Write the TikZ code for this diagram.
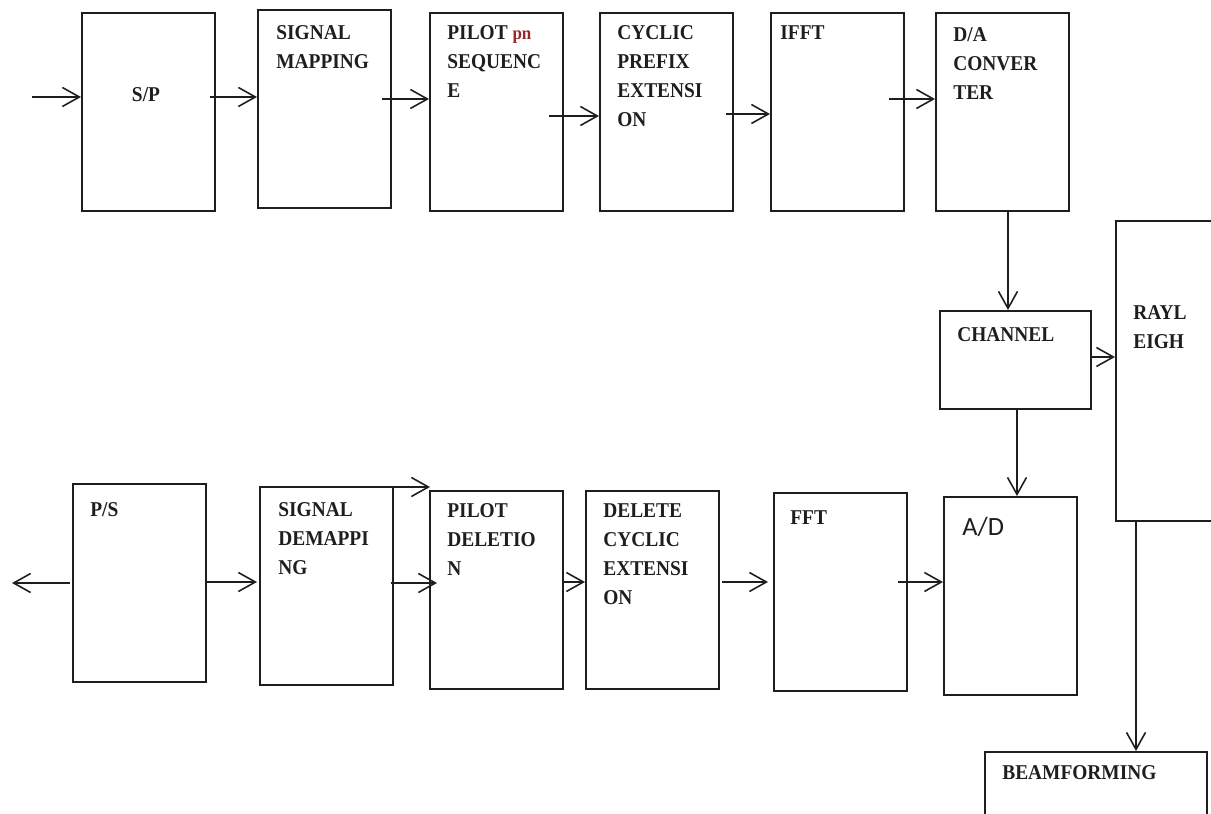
\documentclass[tikz,border=0pt]{standalone}
\usepackage{fontspec}
\setmainfont{Liberation Serif}[FakeStretch=0.92]
\newfontfamily\adfont{Carlito}
\usetikzlibrary{arrows.meta, positioning, calc}
\definecolor{mydark}{RGB}{30,30,30}
\definecolor{pnred}{RGB}{150,40,40}
\tikzset{
  blk/.style={rectangle, draw=mydark, line width=1pt,
    minimum width=2.66cm, minimum height=3.96cm,
    inner sep=0pt, anchor=north west},
  chanblk/.style={blk, minimum width=3.02cm, minimum height=1.96cm},
  rayblk/.style={blk, minimum width=2.4cm, minimum height=6cm},
  beamblk/.style={blk, minimum width=4.44cm, minimum height=2cm},
  lbl/.style={anchor=north west, inner sep=0pt, align=left,
    font=\bfseries\fontsize{12}{16.5}\selectfont, text=mydark},
  arr/.style={-{Straight Barb[length=3.4mm, width=3.8mm]}, line width=0.9pt, color=mydark}
}

\begin{document}
\begin{tikzpicture}[x=0.02cm, y=-0.02cm]
  \useasboundingbox (0,0) rectangle (1211,814);
  \clip (0,0) rectangle (1211,814);

  % Transmitter chain
  \node[blk] (sp)    at (81,12)  {};
  \node[blk] (smap)  at (257,9)  {};
  \node[blk] (pilot) at (429,12) {};
  \node[blk] (cpe)   at (599,12) {};
  \node[blk] (ifft)  at (770,12) {};
  \node[blk] (dac)   at (935,12) {};

  % Channel
  \node[chanblk] (chan) at (939,310) {};
  \node[rayblk]  (ray)  at (1115,220) {};
  \node[beamblk] (beam) at (984,751) {};

  % Receiver chain
  \node[blk] (ps)   at (72,483)  {};
  \node[blk] (sdem) at (259,486) {};
  \node[blk] (pdel) at (429,490) {};
  \node[blk] (dce)  at (585,490) {};
  \node[blk] (fft)  at (773,492) {};
  \node[blk] (adc)  at (943,496) {};

  % Labels
  \node[lbl, anchor=center] (sp-t) at ($(sp.north west)+(65,83)$) {S/P};
  \node[lbl] (smap-t)  at ($(smap.north west)+(19,16)$) {SIGNAL\\MAPPING};
  \node[lbl] (pilot-t) at ($(pilot.north west)+(18,13)$) {PILOT {\color{pnred}\fontsize{10.5}{16.5}\selectfont pn}\\SEQUENC\\E};
  \node[lbl] (cpe-t)   at ($(cpe.north west)+(18,13)$) {CYCLIC\\PREFIX\\EXTENSI\\ON};
  \node[lbl] (ifft-t)  at ($(ifft.north west)+(10,13)$) {IFFT};
  \node[lbl] (dac-t)   at ($(dac.north west)+(18,15)$) {D/A\\CONVER\\TER};
  \node[lbl] (chan-t)  at ($(chan.north west)+(18,17)$) {CHANNEL};
  \node[lbl] (ray-t)   at ($(ray.north west)+(18,85)$) {RAYL\\EIGH};
  \node[lbl] (beam-t)  at ($(beam.north west)+(18,14)$) {BEAMFORMING};
  \node[lbl] (ps-t)    at ($(ps.north west)+(18,19)$) {P/S};
  \node[lbl] (sdem-t)  at ($(sdem.north west)+(19,16)$) {SIGNAL\\DEMAPPI\\NG};
  \node[lbl] (pdel-t)  at ($(pdel.north west)+(18,13)$) {PILOT\\DELETIO\\N};
  \node[lbl] (dce-t)   at ($(dce.north west)+(18,13)$) {DELETE\\CYCLIC\\EXTENSI\\ON};
  \node[lbl] (fft-t)   at ($(fft.north west)+(17,18)$) {FFT};
  \node[lbl, font=\adfont\fontsize{15}{18}\selectfont] (adc-t) at ($(adc.north west)+(19,21)$) {A/D};

  % Free ends
  \coordinate (in)  at (32,97);
  \coordinate (out) at (12,583);

  % Transmitter arrows
  \draw[arr] (in) -- (in -| sp.west);
  \draw[arr] ($(sp.north east)+(-6,85)$) -- ($(smap.north west)+(0,88)$);
  \draw[arr] ($(smap.north east)+(-10,90)$) -- ($(pilot.north west)+(0,87)$);
  \draw[arr] ($(pilot.north east)+(-15,104)$) -- ($(cpe.north west)+(0,104)$);
  \draw[arr] ($(cpe.north east)+(-8,102)$) -- ($(ifft.north west)+(0,102)$);
  \draw[arr] ($(ifft.north east)+(-16,87)$) -- ($(dac.north west)+(0,87)$);

  % Channel arrows
  \draw[arr] ($(dac.south west)+(73,0)$) -- ($(chan.north west)+(69,0)$);
  \draw[arr] ($(chan.north east)+(0,47)$) -- ($(ray.north west)+(0,137)$);
  \draw[arr] ($(chan.south west)+(78,0)$) -- ($(adc.north west)+(74,0)$);
  \draw[arr] ($(ray.south west)+(21,0)$) -- ($(beam.north west)+(152,0)$);

  % Receiver arrows
  \draw[arr] ($(fft.north east)+(-10,90)$) -- ($(adc.north west)+(0,86)$);
  \draw[arr] ($(dce.north east)+(2,92)$) -- ($(fft.north west)+(-5,90)$);
  \draw[arr] ($(pdel.north east)+(0,92)$) -- ($(dce.north west)+(0,92)$);
  \draw[arr] ($(sdem.north east)+(-3,97)$) -- ($(pdel.north west)+(8,93)$);
  \draw[arr] ($(sdem.north east)+(-12,1)$) -- ($(pdel.north west)+(1,-3)$);
  \draw[arr] ($(ps.north east)+(0,99)$) -- ($(sdem.north west)+(-2,96)$);
  \draw[arr] ($(ps.north west)+(-2,100)$) -- (out);
\end{tikzpicture}
\end{document}
